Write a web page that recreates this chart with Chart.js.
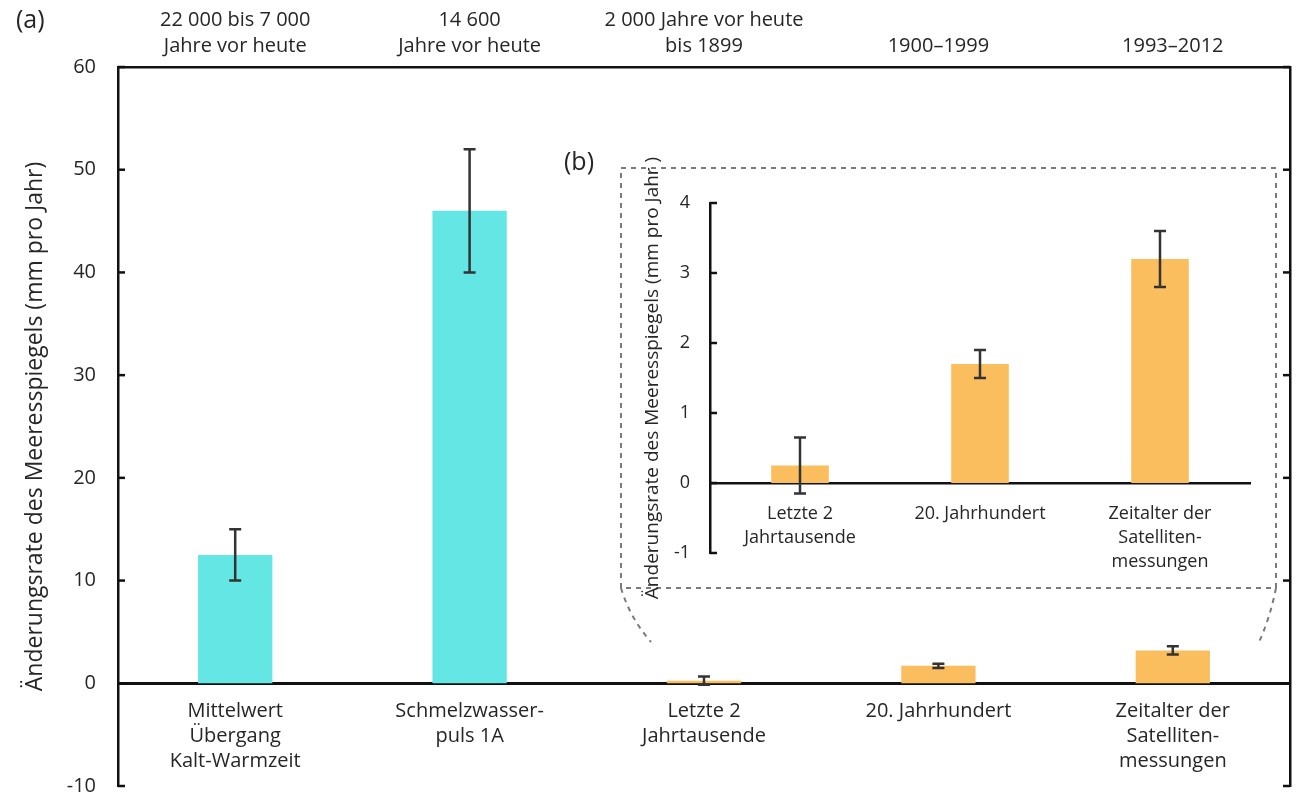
<!DOCTYPE html>
<html lang="de">
<head>
<meta charset="utf-8">
<title>Änderungsrate des Meeresspiegels</title>
<script src="https://cdn.jsdelivr.net/npm/chart.js@4.4.1/dist/chart.umd.min.js"></script>
<style>
  body { margin: 0; background: #fff; }
  #wrap { position: relative; width: 1307px; height: 794px; }
  #mainChart { position: absolute; left: 0; top: 0; }
  #insetChart { position: absolute; left: 600px; top: 150px; }
</style>
</head>
<body>
<div id="wrap">
  <canvas id="mainChart" width="1307" height="794"></canvas>
  <canvas id="insetChart" width="700" height="480"></canvas>
</div>
<script>
// Data (mm pro Jahr)
const categories = [
    ['Mittelwert', 'Übergang', 'Kalt-Warmzeit'],
    ['Schmelzwasser-', 'puls 1A'],
    ['Letzte 2', 'Jahrtausende'],
    ['20. Jahrhundert'],
    ['Zeitalter der', 'Satelliten-', 'messungen']
];
const periods = [
    ['22 000 bis 7 000', 'Jahre vor heute'],
    ['14 600', 'Jahre vor heute'],
    ['2 000 Jahre vor heute', 'bis 1899'],
    '1900–1999',
    '1993–2012'
];
const rates = [12.5, 46, 0.25, 1.7, 3.2];
const rateLow = [10, 40, -0.15, 1.5, 2.8];
const rateHigh = [15, 52, 0.65, 1.9, 3.6];
const barColors = ['#64e6e4', '#64e6e4', '#fbbe5e', '#fbbe5e', '#fbbe5e'];

// inset (b) shows the last three periods
const insetFrom = 2;

const yTitle = 'Änderungsrate des Meeresspiegels (mm pro Jahr)';
const insetTitle = 'Änderungsrate des Meeresspiegels (mm pro Jahr )';

Chart.defaults.font.family = "'Open Sans', 'Noto Sans', sans-serif";
Chart.defaults.color = '#262626';

// error bars drawn from the dataset's errLow / errHigh through the y scale
const errorBars = {
    id: 'errorBars',
    afterDatasetsDraw(chart, args, opts) {
        const ctx = chart.ctx;
        const y = chart.scales.y;
        const ds = chart.data.datasets[0];
        const meta = chart.getDatasetMeta(0);
        ctx.save();
        ctx.strokeStyle = '#333';
        ctx.lineWidth = opts.width || 2.5;
        meta.data.forEach((bar, i) => {
            const top = y.getPixelForValue(ds.errHigh[i]);
            const bot = y.getPixelForValue(ds.errLow[i]);
            const c = (opts.cap || 12) / 2;
            ctx.beginPath();
            ctx.moveTo(bar.x, top); ctx.lineTo(bar.x, bot);
            ctx.moveTo(bar.x - c, top); ctx.lineTo(bar.x + c, top);
            ctx.moveTo(bar.x - c, bot); ctx.lineTo(bar.x + c, bot);
            ctx.stroke();
        });
        ctx.restore();
    }
};

// tick marks pointing into the plot
const inwardTicks = {
    id: 'inwardTicks',
    afterDraw(chart, args, opts) {
        const ctx = chart.ctx;
        const area = chart.chartArea;
        ctx.save();
        ctx.strokeStyle = '#111';
        ctx.lineWidth = 2.5;
        (opts.axes || []).forEach(id => {
            const s = chart.scales[id];
            const right = s.position === 'right';
            const x0 = right ? area.right : area.left;
            const len = right ? -7 : 7;
            s.ticks.forEach(t => {
                const py = s.getPixelForValue(t.value);
                ctx.beginPath();
                ctx.moveTo(x0, py);
                ctx.lineTo(x0 + len, py);
                ctx.stroke();
            });
        });
        ctx.restore();
    }
};

// panel letters, dashed frame of the inset and its pointer lines
const decorations = {
    id: 'decorations',
    afterDraw(chart) {
        const ctx = chart.ctx;
        ctx.save();
        ctx.fillStyle = '#262626';
        ctx.font = "25px 'Open Sans', sans-serif";
        ctx.textBaseline = 'middle';
        ctx.fillText('(a)', 16, 21);
        ctx.fillText('(b)', 564, 163);

        ctx.strokeStyle = '#7a7a7a';
        ctx.lineWidth = 2;
        ctx.setLineDash([5, 5]);
        ctx.strokeRect(621, 168, 655, 420);
        ctx.beginPath();
        ctx.moveTo(621, 588);
        ctx.quadraticCurveTo(630, 618, 651, 642);
        ctx.moveTo(1276, 588);
        ctx.quadraticCurveTo(1270, 618, 1259, 642);
        ctx.stroke();
        ctx.restore();
    }
};

new Chart(document.getElementById('mainChart'), {
    type: 'bar',
    data: {
        labels: categories,
        datasets: [{
            data: rates,
            errLow: rateLow,
            errHigh: rateHigh,
            backgroundColor: barColors,
            borderWidth: 0,
            barPercentage: 0.317,
            categoryPercentage: 1
        }]
    },
    plugins: [errorBars, inwardTicks, decorations],
    options: {
        responsive: false,
        animation: false,
        layout: { padding: { left: 18, right: 17, top: 0, bottom: 8 } },
        plugins: {
            legend: { display: false },
            tooltip: { enabled: false },
            errorBars: { width: 2.5, cap: 12 },
            inwardTicks: { axes: ['y', 'y2'] }
        },
        scales: {
            x: {
                position: { y: 0 },
                grid: { display: false },
                border: { display: true, color: '#111', width: 3 },
                ticks: { font: { size: 20, lineHeight: 1.25 }, padding: 8, maxRotation: 0, autoSkip: false }
            },
            x2: {
                type: 'category',
                position: 'top',
                labels: periods,
                offset: true,
                grid: { display: false },
                border: { display: true, color: '#111', width: 2.5 },
                ticks: { font: { size: 20, lineHeight: 1.3 }, padding: 0, maxRotation: 0, autoSkip: false },
                afterFit: s => { s.height = 67; }
            },
            y: {
                min: -10,
                max: 60,
                grid: { display: false },
                border: { display: true, color: '#111', width: 2.5 },
                ticks: { stepSize: 10, font: { size: 20 }, padding: 14 },
                title: { display: true, text: yTitle, font: { size: 23 }, padding: { top: 4, bottom: 0 } },
                afterFit: s => { s.width = 100; s.paddingTop = 0; s.paddingBottom = 0; }
            },
            y2: {
                position: 'right',
                min: -10,
                max: 60,
                grid: { display: false },
                border: { display: true, color: '#111', width: 2.5 },
                ticks: { display: false, stepSize: 10 },
                afterFit: s => { s.width = 0; s.paddingTop = 0; s.paddingBottom = 0; }
            }
        }
    }
});

new Chart(document.getElementById('insetChart'), {
    type: 'bar',
    data: {
        labels: categories.slice(insetFrom),
        datasets: [{
            data: rates.slice(insetFrom),
            errLow: rateLow.slice(insetFrom),
            errHigh: rateHigh.slice(insetFrom),
            backgroundColor: barColors.slice(insetFrom),
            borderWidth: 0,
            barPercentage: 0.32,
            categoryPercentage: 1
        }]
    },
    plugins: [errorBars, inwardTicks],
    options: {
        responsive: false,
        animation: false,
        layout: { padding: { left: 37, right: 50, top: 53, bottom: 77 } },
        plugins: {
            legend: { display: false },
            tooltip: { enabled: false },
            errorBars: { width: 2.5, cap: 12 },
            inwardTicks: { axes: ['y'] }
        },
        scales: {
            x: {
                position: { y: 0 },
                grid: { display: false },
                border: { display: true, color: '#111', width: 2.5 },
                ticks: { font: { size: 18, lineHeight: 1.33 }, padding: 11, maxRotation: 0, autoSkip: false }
            },
            y: {
                min: -1,
                max: 4,
                grid: { display: false },
                border: { display: true, color: '#111', width: 2.5 },
                ticks: { stepSize: 1, font: { size: 18 }, padding: 12 },
                title: { display: true, text: insetTitle, font: { size: 19 }, padding: { top: 4, bottom: 0 } },
                afterFit: s => { s.width = 73; }
            }
        }
    }
});
</script>
</body>
</html>
